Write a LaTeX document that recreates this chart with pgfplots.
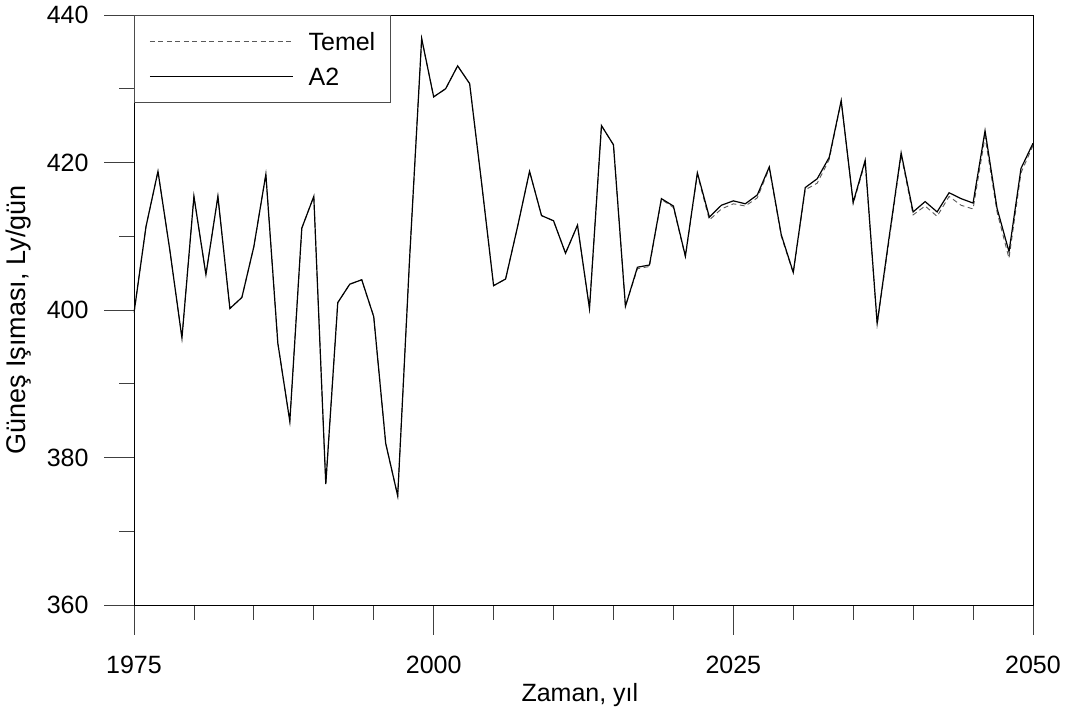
\documentclass[border=0pt]{standalone}
\usepackage{pgfplots}
\pgfplotsset{compat=1.18}
\usepackage{fontspec}
\setmainfont{Liberation Sans}

% Güneş ışıması (Ly/gün): Temel senaryo ve A2 senaryosu
\begin{document}
\begin{tikzpicture}
\path[use as bounding box] (-134pt,-106pt) rectangle (937pt,605pt);
\begin{axis}[
  scale only axis,
  width=899pt, height=590pt,
  xmin=1975, xmax=2050, ymin=360, ymax=440,
  xtick={1975,2000,2025,2050},
  minor xtick={1980,1985,1990,1995,2005,2010,2015,2020,2030,2035,2040,2045},
  ytick={360,380,400,420,440},
  minor ytick={370,390,410,430},
  xtick pos=left, ytick pos=left,
  tick align=outside,
  major tick length=30pt,
  minor tick length=15pt,
  tick style={line width=0.8pt, black!75},
  axis line style={line width=0.9pt},
  /pgf/number format/assume math mode=true,
  /pgf/number format/1000 sep={},
  font=\fontsize{25}{29}\selectfont,
  xticklabel style={font=\fontsize{25}{29}\selectfont, yshift=-18pt},
  yticklabel style={font=\fontsize{25}{29}\selectfont, xshift=-12pt},
  xlabel={Zaman, yıl},
  ylabel={Güneş Işıması, Ly/gün},
  xlabel style={at={(axis description cs:0.496,-0.1525)}, anchor=center},
  ylabel style={at={(axis description cs:-0.1285,0.483)}, anchor=center,
    font=\fontsize{27}{31}\selectfont},
  legend style={at={(0,1)}, anchor=north west, draw=black!70,
    line width=0.8pt, inner xsep=15pt, inner ysep=17pt,
    column sep=15pt, row sep=17pt,
    nodes={inner sep=0pt, text height=18pt, text depth=0pt},
    font=\fontsize{25}{29}\selectfont},
  legend cell align=left,
  legend image code/.code={\draw[#1] (0pt,0pt) -- (143pt,0pt);},
]
\addplot[black!65, line width=0.9pt, dash pattern=on 5pt off 3.5pt] coordinates {
(1975,399.6) (1976,411.3) (1977,418.8) (1978,408.0) (1979,396.2)
(1980,415.4) (1981,404.8) (1982,415.4) (1983,400.2) (1984,401.7)
(1985,408.6) (1986,418.4) (1987,395.5) (1988,384.9) (1989,411.1)
(1990,415.4) (1991,376.4) (1992,401.0) (1993,403.5) (1994,404.1)
(1995,399.1) (1996,381.9) (1997,374.8) (1998,407.2) (1999,436.8)
(2000,428.9) (2001,430.0) (2002,433.1) (2003,430.7) (2004,417.2)
(2005,403.3) (2006,404.2) (2007,411.3) (2008,418.8) (2009,412.8)
(2010,412.1) (2011,407.7) (2012,411.5) (2013,400.2) (2014,425.0)
(2015,422.4) (2016,400.5) (2017,405.6) (2018,405.9) (2019,415.0)
(2020,413.9) (2021,407.2) (2022,418.4) (2023,412.2) (2024,413.7)
(2025,414.4) (2026,414.1) (2027,415.2) (2028,419.2) (2029,410.0)
(2030,405.0) (2031,416.3) (2032,417.2) (2033,420.4) (2034,428.3)
(2035,414.4) (2036,420.0) (2037,398.0) (2038,409.5) (2039,421.0)
(2040,412.9) (2041,414.1) (2042,412.7) (2043,415.4) (2044,414.2)
(2045,413.7) (2046,423.5) (2047,413.3) (2048,407.0) (2049,418.6)
(2050,422.3)
};
\addlegendentry{Temel}
\addplot[black, line width=1.2pt] coordinates {
(1975,399.6) (1976,411.3) (1977,418.8) (1978,408.0) (1979,396.2)
(1980,415.4) (1981,404.8) (1982,415.4) (1983,400.2) (1984,401.7)
(1985,408.6) (1986,418.4) (1987,395.5) (1988,384.9) (1989,411.1)
(1990,415.4) (1991,376.4) (1992,401.0) (1993,403.5) (1994,404.1)
(1995,399.1) (1996,381.9) (1997,374.8) (1998,407.2) (1999,436.8)
(2000,428.9) (2001,430.0) (2002,433.1) (2003,430.7) (2004,417.2)
(2005,403.3) (2006,404.2) (2007,411.3) (2008,418.8) (2009,412.8)
(2010,412.1) (2011,407.7) (2012,411.5) (2013,400.2) (2014,425.0)
(2015,422.4) (2016,400.5) (2017,405.8) (2018,406.1) (2019,415.1)
(2020,414.1) (2021,407.3) (2022,418.6) (2023,412.6) (2024,414.2)
(2025,414.8) (2026,414.4) (2027,415.6) (2028,419.4) (2029,410.2)
(2030,405.1) (2031,416.6) (2032,417.8) (2033,420.7) (2034,428.4)
(2035,414.6) (2036,420.3) (2037,398.2) (2038,409.9) (2039,421.3)
(2040,413.3) (2041,414.7) (2042,413.3) (2043,415.9) (2044,415.1)
(2045,414.5) (2046,424.3) (2047,413.8) (2048,407.9) (2049,419.2)
(2050,422.6)
};
\addlegendentry{A2}
\end{axis}
\end{tikzpicture}
\end{document}
